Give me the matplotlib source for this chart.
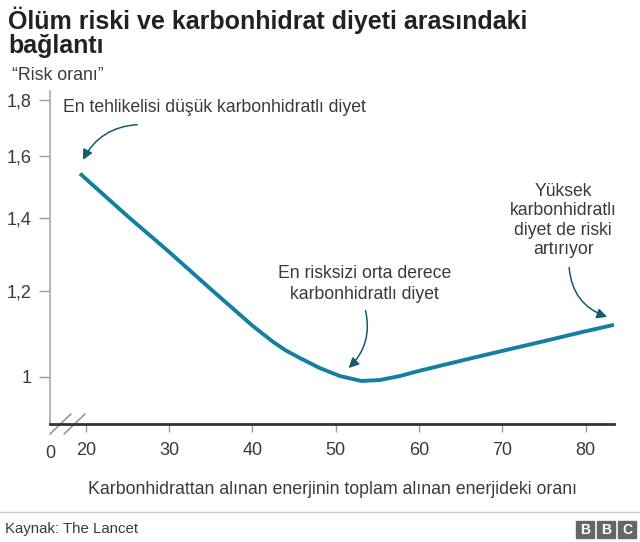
import numpy as np
import matplotlib
matplotlib.use("Agg")
from matplotlib import pyplot as plt
from matplotlib.patches import Rectangle
from matplotlib.lines import Line2D

plt.rcParams['font.family'] = ['Liberation Sans', 'DejaVu Sans']

# values (carb share of energy %, hazard ratio)
carb_share = [19.3, 25, 30, 35, 40, 42.5, 44, 45.7, 48.1, 50.5, 53.1, 55.3, 57.7, 60,
              65, 70, 75, 80, 83.4]
risk_ratio = [1.54, 1.407, 1.304, 1.205, 1.115, 1.077, 1.058, 1.041, 1.019, 1.002, 0.9915,
              0.9936, 1.002, 1.013, 1.035, 1.057, 1.079, 1.102, 1.117]
y_ticks = [1.0, 1.2, 1.4, 1.6, 1.8]
y_tick_labels = ["1", "1,2", "1,4", "1,6", "1,8"]
x_ticks = [20, 30, 40, 50, 60, 70, 80]

line_col = "#1380A1"
arrow_col = "#145a70"
text_col = "#3a3a3a"
grey = "#999999"

fig = plt.figure(figsize=(6.4, 5.42), dpi=100)
ax = fig.add_axes([50/640, 118/542, 564/640, 333/542])

ax.plot(carb_share, risk_ratio, color=line_col, lw=2.8, solid_capstyle="butt",
        solid_joinstyle="round")
ax.set_yscale("log")
ax.set_ylim(0.905, 1.835)
ax.set_xlim(15.7, 83.4)
ax.minorticks_off()
ax.set_yticks(y_ticks)
ax.set_yticklabels(y_tick_labels)
ax.set_xticks(x_ticks)
ax.set_xticklabels([str(v) for v in x_ticks])

for s in ["top", "right"]:
    ax.spines[s].set_visible(False)
ax.spines["left"].set_color("#aaaaaa")
ax.spines["left"].set_linewidth(1.2)
ax.spines["bottom"].set_color("#333333")
ax.spines["bottom"].set_linewidth(2)
ax.tick_params(axis="y", length=8, width=1, color=grey, labelcolor=text_col,
               labelsize=13, pad=5)
ax.tick_params(axis="x", length=6, width=1, color=grey, labelcolor=text_col,
               labelsize=13, pad=7)

# "0" label and axis break
ax.text(0, -0.088, "0", transform=ax.transAxes, ha="center", va="center",
        fontsize=13, color=text_col)
for x0 in [0.0, 0.025]:
    ax.add_line(Line2D([x0, x0 + 0.037], [-0.03, 0.03], transform=ax.transAxes,
                       color="#888888", lw=1, clip_on=False))

ax.set_xlabel("Karbonhidrattan alınan enerjinin toplam alınan enerjideki oranı",
              fontsize=12.8, color=text_col, labelpad=16)

# annotations
ax.text(17.24, 1.772, "En tehlikelisi düşük karbonhidratlı diyet", ha="left", va="center",
        fontsize=12.7, color=text_col)
ax.annotate("", xy=(19.5, 1.577), xytext=(26.5, 1.709),
            arrowprops=dict(arrowstyle="-|>,head_length=0.6,head_width=0.3",
                            connectionstyle="arc3,rad=0.3", color=arrow_col, lw=1.1))

ax.text(53.5, 1.218, "En risksizi orta derece\nkarbonhidratlı diyet", ha="center", va="center",
        fontsize=12.7, color=text_col, linespacing=1.3)
ax.annotate("", xy=(51.3, 1.015), xytext=(53.5, 1.158),
            arrowprops=dict(arrowstyle="-|>,head_length=0.6,head_width=0.3",
                            connectionstyle="arc3,rad=-0.3", color=arrow_col, lw=1.1))

ax.text(77.3, 1.394, "Yüksek\nkarbonhidratlı\ndiyet de riski\nartırıyor", ha="center",
        va="center", fontsize=12.7, color=text_col, linespacing=1.2)
ax.annotate("", xy=(82.9, 1.134), xytext=(78.0, 1.269),
            arrowprops=dict(arrowstyle="-|>,head_length=0.6,head_width=0.3",
                            connectionstyle="arc3,rad=0.35", color=arrow_col, lw=1.1))

# title and y label
fig.text(8/640, 1 - 7/542, "Ölüm riski ve karbonhidrat diyeti arasındaki\nbağlantı",
         ha="left", va="top", fontsize=18, fontweight="bold", color="#222222",
         linespacing=1.0)
fig.text(12/640, 1 - 75/542, "“Risk oranı”", ha="left", va="center", fontsize=12.8,
         color=text_col)

# footer
fig.add_artist(Line2D([0, 1], [1 - 512/542, 1 - 512/542], color="#cccccc", lw=1))
fig.text(5/640, 1 - 529/542, "Kaynak: The Lancet", ha="left", va="center", fontsize=10.8,
         color=text_col)
for i, letter in enumerate("BBC"):
    x0 = 576 + i * 21
    fig.add_artist(Rectangle((x0/640, 1 - 538/542), 18/640, 17/542,
                             transform=fig.transFigure, color="#666666"))
    fig.text((x0 + 9)/640, 1 - 529.5/542, letter, ha="center", va="center",
             fontsize=10, fontweight="bold", color="white")

fig.savefig("out.png", dpi=100)
